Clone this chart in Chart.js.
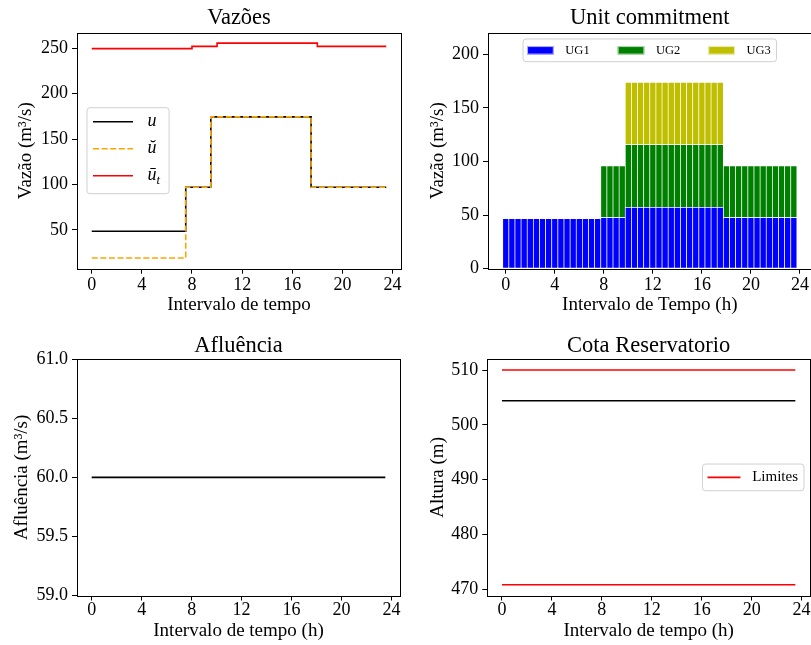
<!DOCTYPE html>
<html>
<head>
<meta charset="utf-8">
<script src="https://cdn.jsdelivr.net/npm/chart.js@4.4.0/dist/chart.umd.min.js"></script>
<style>
    html, body { margin: 0; padding: 0; background: #fff; overflow: hidden; }
    .panel { position: absolute; }
</style>
</head>
<body>
<div class="panel" style="left:0;top:0"><canvas id="vazoes" width="410" height="320"></canvas></div>
<div class="panel" style="left:410px;top:0"><canvas id="unit" width="410" height="320"></canvas></div>
<div class="panel" style="left:0;top:326px"><canvas id="afluencia" width="410" height="319"></canvas></div>
<div class="panel" style="left:410px;top:326px"><canvas id="cota" width="410" height="319"></canvas></div>
<script>
// time steps (half hours)
const hours = [0, 0.5, 1, 1.5, 2, 2.5, 3, 3.5, 4, 4.5, 5, 5.5, 6, 6.5, 7, 7.5,
    8, 8.5, 9, 9.5, 10, 10.5, 11, 11.5, 12, 12.5, 13, 13.5, 14, 14.5, 15, 15.5,
    16, 16.5, 17, 17.5, 18, 18.5, 19, 19.5, 20, 20.5, 21, 21.5, 22, 22.5, 23, 23.5];
const xTicks = [0, 4, 8, 12, 16, 20, 24];

// Vazoes
const vazaoU = [48.5, 48.5, 48.5, 48.5, 48.5, 48.5, 48.5, 48.5, 48.5, 48.5, 48.5, 48.5, 48.5, 48.5, 48.5, 48.5,
    97, 97, 97, 97,
    174.5, 174.5, 174.5, 174.5, 174.5, 174.5, 174.5, 174.5, 174.5, 174.5, 174.5, 174.5, 174.5, 174.5, 174.5, 174.5,
    97, 97, 97, 97, 97, 97, 97, 97, 97, 97, 97, 97];
const vazaoMin = [19, 19, 19, 19, 19, 19, 19, 19, 19, 19, 19, 19, 19, 19, 19, 19,
    97, 97, 97, 97,
    174.5, 174.5, 174.5, 174.5, 174.5, 174.5, 174.5, 174.5, 174.5, 174.5, 174.5, 174.5, 174.5, 174.5, 174.5, 174.5,
    97, 97, 97, 97, 97, 97, 97, 97, 97, 97, 97, 97];
const vazaoMax = [249.7, 249.7, 249.7, 249.7, 249.7, 249.7, 249.7, 249.7, 249.7, 249.7, 249.7, 249.7, 249.7, 249.7, 249.7, 249.7,
    252.2, 252.2, 252.2, 252.2,
    255.8, 255.8, 255.8, 255.8, 255.8, 255.8, 255.8, 255.8, 255.8, 255.8, 255.8, 255.8, 255.8, 255.8, 255.8, 255.8,
    252.2, 252.2, 252.2, 252.2, 252.2, 252.2, 252.2, 252.2, 252.2, 252.2, 252.2, 252.2];
const vazaoTicks = [50, 100, 150, 200, 250];

// Unit commitment
const ug1 = [46.7, 46.7, 46.7, 46.7, 46.7, 46.7, 46.7, 46.7, 46.7, 46.7, 46.7, 46.7, 46.7, 46.7, 46.7, 46.7,
    47.6, 47.6, 47.6, 47.6,
    57.2, 57.2, 57.2, 57.2, 57.2, 57.2, 57.2, 57.2, 57.2, 57.2, 57.2, 57.2, 57.2, 57.2, 57.2, 57.2,
    47.6, 47.6, 47.6, 47.6, 47.6, 47.6, 47.6, 47.6, 47.6, 47.6, 47.6, 47.6];
const ug2 = [0, 0, 0, 0, 0, 0, 0, 0, 0, 0, 0, 0, 0, 0, 0, 0,
    48.2, 48.2, 48.2, 48.2,
    58.5, 58.5, 58.5, 58.5, 58.5, 58.5, 58.5, 58.5, 58.5, 58.5, 58.5, 58.5, 58.5, 58.5, 58.5, 58.5,
    48.2, 48.2, 48.2, 48.2, 48.2, 48.2, 48.2, 48.2, 48.2, 48.2, 48.2, 48.2];
const ug3 = [0, 0, 0, 0, 0, 0, 0, 0, 0, 0, 0, 0, 0, 0, 0, 0,
    0, 0, 0, 0,
    57.9, 57.9, 57.9, 57.9, 57.9, 57.9, 57.9, 57.9, 57.9, 57.9, 57.9, 57.9, 57.9, 57.9, 57.9, 57.9,
    0, 0, 0, 0, 0, 0, 0, 0, 0, 0, 0, 0];
const unitTicks = [0, 50, 100, 150, 200];

// Afluencia
const afluencia = [60, 60, 60, 60, 60, 60, 60, 60, 60, 60, 60, 60, 60, 60, 60, 60,
    60, 60, 60, 60, 60, 60, 60, 60, 60, 60, 60, 60, 60, 60, 60, 60,
    60, 60, 60, 60, 60, 60, 60, 60, 60, 60, 60, 60, 60, 60, 60, 60];
const afluenciaTicks = [59.0, 59.5, 60.0, 60.5, 61.0];

// Cota reservatorio
const cota = [504.4, 504.4, 504.4, 504.4, 504.4, 504.4, 504.4, 504.4, 504.4, 504.4, 504.4, 504.4, 504.4, 504.4, 504.4, 504.4,
    504.4, 504.4, 504.4, 504.4, 504.4, 504.4, 504.4, 504.4, 504.4, 504.4, 504.4, 504.4, 504.4, 504.4, 504.4, 504.4,
    504.4, 504.4, 504.4, 504.4, 504.4, 504.4, 504.4, 504.4, 504.4, 504.4, 504.4, 504.4, 504.4, 504.4, 504.4, 504.4];
const cotaMax = [510, 510, 510, 510, 510, 510, 510, 510, 510, 510, 510, 510, 510, 510, 510, 510,
    510, 510, 510, 510, 510, 510, 510, 510, 510, 510, 510, 510, 510, 510, 510, 510,
    510, 510, 510, 510, 510, 510, 510, 510, 510, 510, 510, 510, 510, 510, 510, 510];
const cotaMin = [470.8, 470.8, 470.8, 470.8, 470.8, 470.8, 470.8, 470.8, 470.8, 470.8, 470.8, 470.8, 470.8, 470.8, 470.8, 470.8,
    470.8, 470.8, 470.8, 470.8, 470.8, 470.8, 470.8, 470.8, 470.8, 470.8, 470.8, 470.8, 470.8, 470.8, 470.8, 470.8,
    470.8, 470.8, 470.8, 470.8, 470.8, 470.8, 470.8, 470.8, 470.8, 470.8, 470.8, 470.8, 470.8, 470.8, 470.8, 470.8];
const cotaTicks = [470, 480, 490, 500, 510];

const FONT = "'Liberation Serif', 'Times New Roman', serif";

Chart.defaults.font.family = FONT;
Chart.defaults.color = '#000';
Chart.defaults.animation = false;

const points = (ys) => hours.map((h, i) => ({ x: h, y: ys[i] }));

// axes frame, like matplotlib spines
const framePlugin = {
    id: 'frame',
    afterDatasetsDraw(chart) {
        const { ctx, chartArea: a } = chart;
        ctx.save();
        ctx.strokeStyle = '#000';
        ctx.lineWidth = 1;
        ctx.strokeRect(Math.round(a.left) + 0.5, Math.round(a.top) + 0.5,
            Math.round(a.right) - Math.round(a.left), Math.round(a.bottom) - Math.round(a.top));
        ctx.restore();
    }
};

function labelText(ctx, text, x, y, size, italic, draw) {
    const parts = text.split('_');
    const style = italic ? 'italic ' : '';
    ctx.font = style + size + 'px ' + FONT;
    if (draw) ctx.fillText(parts[0], x, y);
    let w = ctx.measureText(parts[0]).width;
    if (parts[1]) {
        ctx.font = style + (size * 0.7) + 'px ' + FONT;
        if (draw) ctx.fillText(parts[1], x + w, y + size * 0.28);
        w += ctx.measureText(parts[1]).width;
    }
    return w;
}

// matplotlib-like legend box placed inside the axes
const boxLegend = {
    id: 'boxLegend',
    afterDraw(chart, args, o) {
        if (!o || !o.display) return;
        const { ctx, chartArea: a } = chart;
        const items = chart.data.datasets.filter(d => d.label);
        ctx.save();
        const widths = items.map(d => labelText(ctx, d.label, 0, 0, o.size, o.italic, false));
        let w, h;
        if (o.horizontal) {
            w = o.padL + o.padR + widths.reduce((s, tw) => s + o.handle + o.gap + tw, 0) + o.colGap * (items.length - 1);
            h = o.padT + o.padB + o.rowH;
        } else {
            w = o.padL + o.padR + o.handle + o.gap + Math.max(...widths);
            h = o.padT + o.padB + o.rowH * items.length;
        }
        let left, top;
        const midY = (a.top + a.bottom) / 2;
        if (o.anchor === 'left') { left = a.left + o.offset; top = midY - h / 2; }
        else if (o.anchor === 'right') { left = a.right - o.offset - w; top = midY - h / 2; }
        else { left = (a.left + a.right) / 2 - w / 2; top = a.top + o.offset; }

        ctx.beginPath();
        ctx.roundRect(left, top, w, h, 3);
        ctx.fillStyle = 'rgba(255,255,255,0.8)';
        ctx.fill();
        ctx.strokeStyle = '#d0d0d0';
        ctx.lineWidth = 1;
        ctx.stroke();

        ctx.textBaseline = 'middle';
        ctx.textAlign = 'left';
        let x = left + o.padL;
        let y = top + o.padT + o.rowH / 2;
        items.forEach((d, i) => {
            if (chart.config.type === 'bar') {
                ctx.fillStyle = d.backgroundColor;
                ctx.fillRect(x, y - o.patchH / 2, o.handle, o.patchH);
                ctx.strokeStyle = 'rgba(255,255,255,0.7)';
                ctx.strokeRect(x + 0.5, y - o.patchH / 2 + 0.5, o.handle - 1, o.patchH - 1);
            } else {
                ctx.beginPath();
                ctx.setLineDash(d.borderDash || []);
                ctx.strokeStyle = d.borderColor;
                ctx.lineWidth = d.borderWidth;
                ctx.moveTo(x, y);
                ctx.lineTo(x + o.handle, y);
                ctx.stroke();
                ctx.setLineDash([]);
            }
            ctx.fillStyle = '#000';
            labelText(ctx, d.label, x + o.handle + o.gap, y, o.size, o.italic, true);
            if (o.horizontal) {
                x += o.handle + o.gap + widths[i] + o.colGap;
            } else {
                y += o.rowH;
            }
        });
        ctx.restore();
    }
};

function xScale(title, min, max, height, tickPad, titlePad) {
    return {
        type: 'linear',
        min: min,
        max: max,
        offset: false,
        afterBuildTicks: axis => { axis.ticks = xTicks.map(v => ({ value: v })); },
        afterFit: s => { s.height = height; },
        grid: { drawOnChartArea: false, drawTicks: true, tickLength: 5, color: '#000', offset: false },
        border: { display: false },
        ticks: { font: { size: 18 }, color: '#000', padding: tickPad, maxRotation: 0, autoSkip: false },
        title: { display: true, text: title, font: { size: 19 }, color: '#000', padding: { top: 0, bottom: titlePad } }
    };
}

function yScale(title, min, max, tickValues, width, titlePad, fmt) {
    return {
        min: min,
        max: max,
        afterBuildTicks: axis => { axis.ticks = tickValues.map(v => ({ value: v })); },
        afterFit: s => { s.width = width; },
        grid: { drawOnChartArea: false, drawTicks: true, tickLength: 5, color: '#000' },
        border: { display: false },
        ticks: { font: { size: 18 }, color: '#000', padding: 4, autoSkip: false,
            callback: fmt || (v => String(v)) },
        title: { display: true, text: title, font: { size: 19 }, color: '#000', padding: { top: titlePad, bottom: 0 } }
    };
}

function titleOpts(text, padTop, padBottom) {
    return {
        display: true, text: text, fullSize: false, color: '#000',
        font: { size: 22.5, weight: 'normal', lineHeight: 1.15 },
        padding: { top: padTop, bottom: padBottom }
    };
}

// Vazoes
new Chart(document.getElementById('vazoes'), {
    type: 'line',
    data: {
        datasets: [
            { label: 'u', data: points(vazaoU), borderColor: '#000', borderWidth: 1.6, stepped: 'after', order: 2 },
            { label: 'ŭ', data: points(vazaoMin), borderColor: '#ffa500', borderWidth: 1.6, borderDash: [6, 2.6], stepped: 'after', order: 1 },
            { label: 'ū_t', data: points(vazaoMax), borderColor: '#ff0000', borderWidth: 1.6, stepped: 'before', order: 0 }
        ]
    },
    options: {
        responsive: false,
        elements: { point: { radius: 0 }, line: { tension: 0 } },
        layout: { padding: { left: 0, top: 0, right: 9, bottom: 0 } },
        scales: {
            x: xScale('Intervalo de tempo', -1.175, 24.675, 51.3, 1, 3.9),
            y: yScale('Vazão (m³/s)', 7.2, 267.3, vazaoTicks, 77, 14.6)
        },
        plugins: {
            legend: { display: false },
            tooltip: { enabled: false },
            title: titleOpts('Vazões', 5.1, 1.7),
            boxLegend: { display: true, anchor: 'left', offset: 10, horizontal: false, size: 18, italic: true,
                padL: 6, padR: 9, padT: 0.5, padB: 4.5, rowH: 27, handle: 40, gap: 14.6 }
        }
    },
    plugins: [framePlugin, boxLegend]
});

// Unit commitment
new Chart(document.getElementById('unit'), {
    type: 'bar',
    data: {
        datasets: [
            { label: 'UG1', data: points(ug1), backgroundColor: '#0000ff' },
            { label: 'UG2', data: points(ug2), backgroundColor: '#008000' },
            { label: 'UG3', data: points(ug3), backgroundColor: 'rgb(191,191,0)' }
        ]
    },
    options: {
        responsive: false,
        datasets: { bar: { barPercentage: 1, categoryPercentage: 1, borderWidth: 0.7,
            borderColor: 'rgba(255,255,255,0.85)', borderSkipped: false } },
        layout: { padding: { left: 0, top: 0, right: 8.4, bottom: 0 } },
        scales: {
            x: Object.assign(xScale('Intervalo de Tempo (h)', -1.45, 24.95, 51.3, 1, 3.9), { stacked: true }),
            y: Object.assign(yScale('Vazão (m³/s)', 0, 220, unitTicks, 78, 16.6), { stacked: true })
        },
        plugins: {
            legend: { display: false },
            tooltip: { enabled: false },
            title: titleOpts('Unit commitment', 5.1, 1.7),
            boxLegend: { display: true, anchor: 'top', offset: 6.3, horizontal: true, size: 12.5, italic: false,
                padL: 4, padR: 5.7, padT: 0, padB: 0, rowH: 22.7, handle: 26.7, gap: 11.6, colGap: 28, patchH: 8.5 }
        }
    },
    plugins: [framePlugin, boxLegend]
});

// Afluencia
new Chart(document.getElementById('afluencia'), {
    type: 'line',
    data: {
        datasets: [
            { data: points(afluencia), borderColor: '#000', borderWidth: 1.6 }
        ]
    },
    options: {
        responsive: false,
        elements: { point: { radius: 0 }, line: { tension: 0 } },
        layout: { padding: { left: 0, top: 0, right: 10, bottom: 0 } },
        scales: {
            x: xScale('Intervalo de tempo (h)', -1.175, 24.675, 49.5, -1, 2.6),
            y: yScale('Afluência (m³/s)', 59, 61, afluenciaTicks, 77, 11.1, v => v.toFixed(1))
        },
        plugins: {
            legend: { display: false },
            tooltip: { enabled: false },
            title: titleOpts('Afluência', 7.4, 0)
        }
    },
    plugins: [framePlugin]
});

// Cota reservatorio
new Chart(document.getElementById('cota'), {
    type: 'line',
    data: {
        datasets: [
            { data: points(cota), borderColor: '#000', borderWidth: 1.6 },
            { label: 'Limites', data: points(cotaMax), borderColor: '#ff0000', borderWidth: 1.6 },
            { data: points(cotaMin), borderColor: '#ff0000', borderWidth: 1.6 }
        ]
    },
    options: {
        responsive: false,
        elements: { point: { radius: 0 }, line: { tension: 0 } },
        layout: { padding: { left: 0, top: 0, right: 10, bottom: 0 } },
        scales: {
            x: xScale('Intervalo de tempo (h)', -1.175, 24.675, 49.5, -1, 2.6),
            y: yScale('Altura (m)', 468.84, 511.96, cotaTicks, 77.3, 16.4)
        },
        plugins: {
            legend: { display: false },
            tooltip: { enabled: false },
            title: titleOpts('Cota Reservatorio', 7.4, 0),
            boxLegend: { display: true, anchor: 'right', offset: 6, horizontal: true, size: 15, italic: false,
                padL: 5, padR: 6, padT: 0, padB: 0, rowH: 26.7, handle: 33, gap: 11.7, colGap: 0 }
        }
    },
    plugins: [framePlugin, boxLegend]
});
</script>
</body>
</html>
